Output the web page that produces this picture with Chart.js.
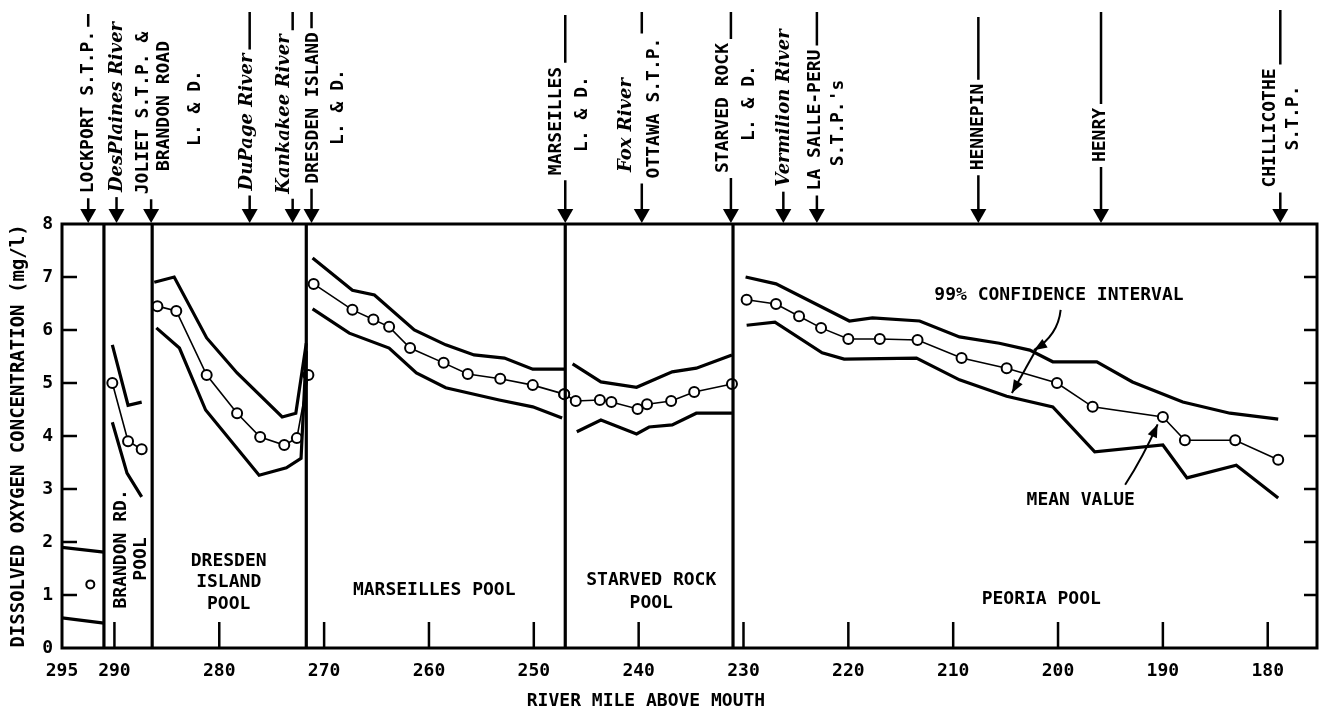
<!DOCTYPE html>
<html>
<head>
<meta charset="utf-8">
<title>Dissolved oxygen, Illinois River</title>
<script src="https://cdn.jsdelivr.net/npm/chart.js@4.4.1/dist/chart.umd.min.js"></script>
<style>
  html, body { margin: 0; padding: 0; background: #fff; }
  #wrap { width: 1325px; height: 714px; }
</style>
</head>
<body>
<div id="wrap"><canvas id="chart" width="1325" height="714"></canvas></div>
<script>
// axis ticks
const xTickMiles = [295, 290, 280, 270, 260, 250, 240, 230, 220, 210, 200, 190, 180];
const yTickValues = [0, 1, 2, 3, 4, 5, 6, 7, 8];

// lock & dam locations (river mile)
const damMiles = [291.0, 286.4, 271.7, 247.0, 231.0];

// Lockport pool
const lockportUpperMile = [295, 291.0];
const lockportUpperDO = [1.9, 1.81];
const lockportMeanMile = [292.3];
const lockportMeanDO = [1.2];
const lockportLowerMile = [295, 291.0];
const lockportLowerDO = [0.57, 0.47];

// Brandon Rd. pool
const brandonUpperMile = [290.2, 288.7, 287.4];
const brandonUpperDO = [5.72, 4.58, 4.64];
const brandonMeanMile = [290.2, 288.7, 287.4];
const brandonMeanDO = [5.0, 3.9, 3.75];
const brandonLowerMile = [290.2, 288.8, 287.4];
const brandonLowerDO = [4.26, 3.3, 2.85];

// Dresden Island pool
const dresdenUpperMile = [286.2, 284.3, 281.2, 278.3, 274.0, 272.7, 271.7];
const dresdenUpperDO = [6.9, 7.0, 5.85, 5.19, 4.36, 4.43, 5.75];
const dresdenMeanMile = [285.9, 284.1, 281.2, 278.3, 276.1, 273.8, 272.6, 271.5];
const dresdenMeanDO = [6.45, 6.36, 5.15, 4.43, 3.98, 3.83, 3.96, 5.15];
const dresdenLowerMile = [286.0, 283.8, 281.3, 276.2, 273.6, 272.2, 271.7];
const dresdenLowerDO = [6.04, 5.66, 4.49, 3.26, 3.40, 3.58, 5.6];

// Marseilles pool
const marseillesUpperMile = [271.1, 267.3, 265.2, 261.4, 258.4, 255.7, 252.8, 250.1, 247.1];
const marseillesUpperDO = [7.36, 6.75, 6.66, 6.0, 5.72, 5.53, 5.47, 5.26, 5.26];
const marseillesMeanMile = [271.0, 267.3, 265.3, 263.8, 261.8, 258.6, 256.3, 253.2, 250.1, 247.1];
const marseillesMeanDO = [6.87, 6.38, 6.2, 6.06, 5.66, 5.38, 5.17, 5.08, 4.96, 4.79];
const marseillesLowerMile = [271.1, 267.6, 263.8, 261.2, 258.4, 253.3, 250.1, 247.3];
const marseillesLowerDO = [6.4, 5.94, 5.66, 5.19, 4.91, 4.68, 4.55, 4.34];

// Starved Rock pool
const starvedUpperMile = [246.3, 243.6, 240.2, 236.8, 234.5, 231.1];
const starvedUpperDO = [5.36, 5.02, 4.92, 5.21, 5.28, 5.53];
const starvedMeanMile = [247.1, 246.0, 243.7, 242.6, 240.1, 239.2, 236.9, 234.7, 231.1];
const starvedMeanDO = [4.79, 4.66, 4.68, 4.64, 4.51, 4.6, 4.66, 4.83, 4.98];
const starvedLowerMile = [245.9, 243.6, 240.2, 239.0, 236.8, 234.5, 231.1];
const starvedLowerDO = [4.08, 4.3, 4.04, 4.17, 4.21, 4.43, 4.43];

// Peoria pool
const peoriaUpperMile = [229.8, 226.9, 219.9, 217.7, 213.2, 209.4, 205.6, 202.7, 200.5, 196.3, 192.9, 188.1, 183.6, 179.0];
const peoriaUpperDO = [7.0, 6.87, 6.17, 6.23, 6.17, 5.87, 5.75, 5.62, 5.4, 5.4, 5.02, 4.64, 4.43, 4.32];
const peoriaMeanMile = [229.7, 226.9, 224.7, 222.6, 220.0, 217.0, 213.4, 209.2, 204.9, 200.1, 196.7, 190.0, 187.9, 183.1, 179.0];
const peoriaMeanDO = [6.57, 6.49, 6.26, 6.04, 5.83, 5.83, 5.81, 5.47, 5.28, 5.0, 4.55, 4.36, 3.92, 3.92, 3.55];
const peoriaLowerMile = [229.7, 227.0, 222.5, 220.4, 213.5, 209.4, 204.9, 200.5, 196.5, 190.0, 187.7, 183.0, 179.0];
const peoriaLowerDO = [6.09, 6.15, 5.57, 5.45, 5.47, 5.06, 4.75, 4.55, 3.7, 3.83, 3.21, 3.45, 2.83];

// outfalls, tributaries and dams marked along the top
const outfallMiles = [292.5, 289.8, 286.5, 277.1, 273.0, 271.2, 247.0, 239.7, 231.2, 226.2, 223.0, 207.6, 195.9, 178.8];
const outfallNames = [
  ['LOCKPORT S.T.P.'],
  ['DesPlaines River'],
  ['JOLIET S.T.P. &', 'BRANDON ROAD', 'L. & D.'],
  ['DuPage River'],
  ['Kankakee River'],
  ['DRESDEN ISLAND', 'L. & D.'],
  ['MARSEILLES', 'L. & D.'],
  ['Fox River', 'OTTAWA S.T.P.'],
  ['STARVED ROCK', 'L. & D.'],
  ['Vermilion River'],
  ['LA SALLE-PERU', "S.T.P.'s"],
  ['HENNEPIN'],
  ['HENRY'],
  ['CHILLICOTHE', 'S.T.P.']
];

// label layout for the top markers: x offset and centre height of each text line
const outfallLayout = [
  { dx: [0], cy: [112], italic: [false], stemTop: 14 },
  { dx: [1], cy: [107], italic: [true], stemTop: null },
  { dx: [-8, 13, 44], cy: [113, 106, 108], italic: [false, false, false], stemTop: null },
  { dx: [-2], cy: [122], italic: [true], stemTop: 12 },
  { dx: [-8], cy: [114], italic: [true], stemTop: 12 },
  { dx: [2, 27], cy: [108, 107], italic: [false, false], stemTop: 12 },
  { dx: [-9, 17], cy: [121, 114], italic: [false, false], stemTop: 15 },
  { dx: [-15, 13], cy: [125, 108], italic: [true, false], stemTop: 12 },
  { dx: [-8, 18], cy: [108, 103], italic: [false, false], stemTop: 12 },
  { dx: [1], cy: [108], italic: [true], stemTop: null },
  { dx: [-2, 21], cy: [120, 123], italic: [false, false], stemTop: 12 },
  { dx: [0], cy: [127], italic: [false], stemTop: 17 },
  { dx: [-1], cy: [135], italic: [false], stemTop: 12 },
  { dx: [-10, 13], cy: [128, 118], italic: [false, false], stemTop: 10 }
];

// pool names, placed in data units (river mile, mg/l)
const poolLabels = [
  { text: 'BRANDON RD.', mile: 289.3, at: 1.87, vertical: true },
  { text: 'POOL', mile: 287.4, at: 1.68, vertical: true },
  { text: 'DRESDEN', mile: 279.1, at: 1.64 },
  { text: 'ISLAND', mile: 279.1, at: 1.24 },
  { text: 'POOL', mile: 279.1, at: 0.83 },
  { text: 'MARSEILLES POOL', mile: 259.5, at: 1.09 },
  { text: 'STARVED ROCK', mile: 238.8, at: 1.28 },
  { text: 'POOL', mile: 238.8, at: 0.84 },
  { text: 'PEORIA POOL', mile: 201.6, at: 0.92 }
];

const MONO = '"DejaVu Sans Mono", monospace';
const monoFont = 'bold 18px ' + MONO;
const italicFont = 'italic bold 18px "DejaVu Serif", serif';

function pts(miles, vals) {
  return miles.map((m, i) => ({ x: m, y: vals[i] }));
}

function band(miles, vals) {
  return { data: pts(miles, vals), borderColor: '#000', borderWidth: 3.2, pointRadius: 0, tension: 0 };
}

function mean(miles, vals, r) {
  return {
    data: pts(miles, vals), borderColor: '#000', borderWidth: 1.6,
    pointRadius: r || 5, pointBorderWidth: 2, pointBackgroundColor: '#fff', pointBorderColor: '#000', tension: 0
  };
}

const datasets = [];
damMiles.forEach(m => {
  datasets.push({ data: [{ x: m, y: 0 }, { x: m, y: 8 }], borderColor: '#000', borderWidth: 3.2, pointRadius: 0 });
});
datasets.push(
  band(lockportUpperMile, lockportUpperDO), band(lockportLowerMile, lockportLowerDO),
  band(brandonUpperMile, brandonUpperDO), band(brandonLowerMile, brandonLowerDO),
  band(dresdenUpperMile, dresdenUpperDO), band(dresdenLowerMile, dresdenLowerDO),
  band(marseillesUpperMile, marseillesUpperDO), band(marseillesLowerMile, marseillesLowerDO),
  band(starvedUpperMile, starvedUpperDO), band(starvedLowerMile, starvedLowerDO),
  band(peoriaUpperMile, peoriaUpperDO), band(peoriaLowerMile, peoriaLowerDO),
  { ...mean(lockportMeanMile, lockportMeanDO, 4), showLine: false },
  mean(brandonMeanMile, brandonMeanDO),
  mean(dresdenMeanMile, dresdenMeanDO),
  mean(marseillesMeanMile, marseillesMeanDO),
  mean(starvedMeanMile, starvedMeanDO),
  mean(peoriaMeanMile, peoriaMeanDO)
);

function arrowHead(ctx, tipX, tipY, fromX, fromY, len, half) {
  const a = Math.atan2(tipY - fromY, tipX - fromX);
  ctx.beginPath();
  ctx.moveTo(tipX, tipY);
  ctx.lineTo(tipX - len * Math.cos(a) + half * Math.sin(a), tipY - len * Math.sin(a) - half * Math.cos(a));
  ctx.lineTo(tipX - len * Math.cos(a) - half * Math.sin(a), tipY - len * Math.sin(a) + half * Math.cos(a));
  ctx.closePath();
  ctx.fill();
}

function textUp(ctx, text, x, cy) {
  ctx.save();
  ctx.translate(x, cy);
  ctx.rotate(-Math.PI / 2);
  ctx.textAlign = 'center';
  ctx.textBaseline = 'middle';
  ctx.fillText(text, 0, 0);
  ctx.restore();
}

const annotations = {
  id: 'annotations',
  afterDraw(chart) {
    const { ctx, chartArea: a, scales: { x, y } } = chart;
    const X = m => x.getPixelForValue(m);
    const Y = v => y.getPixelForValue(v);
    ctx.save();
    ctx.strokeStyle = '#000';
    ctx.fillStyle = '#000';
    ctx.lineCap = 'butt';

    // frame and inward ticks
    ctx.lineWidth = 3;
    ctx.strokeRect(a.left, a.top, a.right - a.left, a.bottom - a.top);
    ctx.lineWidth = 2.5;
    ctx.beginPath();
    yTickValues.slice(1, -1).forEach(v => {
      ctx.moveTo(a.left, Y(v)); ctx.lineTo(a.left + 15, Y(v));
      ctx.moveTo(a.right, Y(v)); ctx.lineTo(a.right - 13, Y(v));
    });
    xTickMiles.slice(1).forEach(m => {
      ctx.moveTo(X(m), a.bottom); ctx.lineTo(X(m), a.bottom - 26);
    });
    ctx.stroke();

    // axis titles
    ctx.font = 'bold 19px ' + MONO;
    textUp(ctx, 'DISSOLVED OXYGEN CONCENTRATION (mg/l)', 19, (a.top + a.bottom) / 2);
    ctx.font = monoFont;
    ctx.textAlign = 'center';
    ctx.textBaseline = 'middle';
    ctx.fillText('RIVER MILE ABOVE MOUTH', X(239.3), a.bottom + 53);

    // pool names
    poolLabels.forEach(p => {
      if (p.vertical) {
        textUp(ctx, p.text, X(p.mile), Y(p.at));
      } else {
        ctx.textAlign = 'center';
        ctx.fillText(p.text, X(p.mile), Y(p.at));
      }
    });

    // markers along the top
    outfallMiles.forEach((m, i) => {
      const px = X(m);
      const lay = outfallLayout[i];
      let top = Infinity, bot = -Infinity;
      outfallNames[i].forEach((t, j) => {
        ctx.font = lay.italic[j] ? italicFont : monoFont;
        const w = ctx.measureText(t).width;
        textUp(ctx, t, px + lay.dx[j], lay.cy[j]);
        top = Math.min(top, lay.cy[j] - w / 2);
        bot = Math.max(bot, lay.cy[j] + w / 2);
      });
      ctx.lineWidth = 2.5;
      ctx.beginPath();
      ctx.moveTo(px, bot + 5);
      ctx.lineTo(px, a.top - 12);
      if (lay.stemTop !== null) {
        ctx.moveTo(px, lay.stemTop);
        ctx.lineTo(px, top - 4);
      }
      ctx.stroke();
      ctx.beginPath();
      ctx.moveTo(px - 8, a.top - 15);
      ctx.lineTo(px + 8, a.top - 15);
      ctx.lineTo(px, a.top - 1);
      ctx.closePath();
      ctx.fill();
    });

    // callouts
    ctx.font = monoFont;
    ctx.textAlign = 'left';
    ctx.textBaseline = 'middle';
    ctx.fillText('99% CONFIDENCE INTERVAL', X(211.8), Y(6.66));
    ctx.fillText('MEAN VALUE', X(203.0), Y(2.79));

    ctx.lineWidth = 2;
    // to the upper limit
    const c0 = [X(199.75), Y(6.38)], c1 = [X(200.0), Y(5.9)], c2 = [X(202.3), Y(5.62)];
    ctx.beginPath();
    ctx.moveTo(c0[0], c0[1]);
    ctx.quadraticCurveTo(c1[0], c1[1], c2[0], c2[1]);
    ctx.stroke();
    arrowHead(ctx, c2[0], c2[1], c1[0], c1[1], 13, 5);
    // on to the lower limit
    const d0 = [X(202.0), Y(5.66)], d1 = [X(204.4), Y(4.81)];
    ctx.beginPath();
    ctx.moveTo(d0[0], d0[1]);
    ctx.lineTo(d1[0], d1[1]);
    ctx.stroke();
    arrowHead(ctx, d1[0], d1[1], d0[0], d0[1], 13, 5);
    // to the mean line
    const e0 = [X(193.6), Y(3.08)], e1 = [X(191.9), Y(3.6)], e2 = [X(190.5), Y(4.22)];
    ctx.beginPath();
    ctx.moveTo(e0[0], e0[1]);
    ctx.quadraticCurveTo(e1[0], e1[1], e2[0], e2[1]);
    ctx.stroke();
    arrowHead(ctx, e2[0], e2[1], e1[0], e1[1], 13, 5);

    ctx.restore();
  }
};

new Chart(document.getElementById('chart'), {
  type: 'line',
  data: { datasets },
  options: {
    responsive: false,
    animation: false,
    devicePixelRatio: 1,
    layout: { padding: { top: 224, right: 8, left: 0, bottom: 0 } },
    plugins: { legend: { display: false }, tooltip: { enabled: false } },
    scales: {
      x: {
        type: 'linear',
        reverse: true,
        min: 175.3,
        max: 295,
        grid: { display: false, drawTicks: false },
        border: { display: false },
        afterBuildTicks: s => { s.ticks = xTickMiles.map(v => ({ value: v })); },
        afterFit: s => { s.height = 66; },
        ticks: {
          autoSkip: false, maxRotation: 0, padding: 13, color: '#000',
          font: { family: MONO, size: 18, weight: 'bold' },
          callback: v => String(v)
        }
      },
      y: {
        type: 'linear',
        min: 0,
        max: 8,
        grid: { display: false, drawTicks: false },
        border: { display: false },
        afterBuildTicks: s => { s.ticks = yTickValues.map(v => ({ value: v })); },
        afterFit: s => { s.width = 62; },
        ticks: {
          padding: 9, color: '#000',
          font: { family: MONO, size: 18, weight: 'bold' },
          callback: v => String(v)
        }
      }
    }
  },
  plugins: [annotations]
});
</script>
</body>
</html>
